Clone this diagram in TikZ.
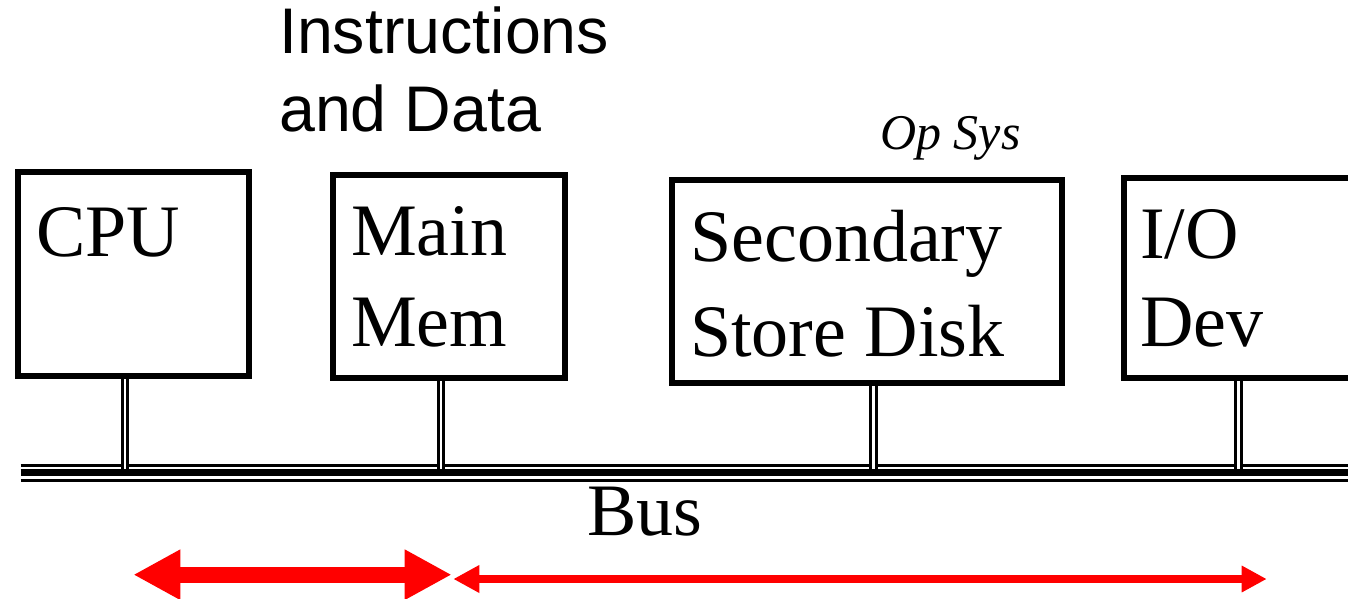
\documentclass[tikz,border=0pt]{standalone}
\usepackage{fontspec}
\setmainfont{Liberation Serif}
\newfontfamily\arialfont{Liberation Sans}
\usetikzlibrary{arrows.meta}
\tikzset{
  box/.style={draw=black, line width=6pt, fill=white, inner sep=0pt, outer sep=0pt},
  boxline/.style={draw=black, line width=6pt, inner sep=0pt, outer sep=0pt},
  boxtext/.style={anchor=base west, inner sep=0pt, font=\fontsize{74}{80}\selectfont},
  stemline/.style={draw=black, line width=3pt, double=white, double distance=2.2pt},
  thinbus/.style={line width=3pt},
  thickbus/.style={line width=6.8pt},
  bigarrow/.style={draw=red, line width=16pt, {Triangle[length=47pt,width=47pt]}-{Triangle[length=47pt,width=47pt]}},
  smallarrow/.style={draw=red, line width=8pt, {Triangle[length=26pt,width=26pt]}-{Triangle[length=25pt,width=25pt]}},
}
\begin{document}
\begin{tikzpicture}[x=1pt,y=-1pt]
\clip (0,0) rectangle (1348,599);
\fill[white] (0,0) rectangle (1348,599);

% bus
\coordinate (busL) at (20.7,472.7);
\coordinate (busR) at (1360,472.7);
\draw[thinbus] (20.7,465.7) -- (1360,465.7);
\draw[thickbus] (busL) -- (busR);
\draw[thinbus] (20.7,480) -- (1360,480);

% stem end points on bus
\coordinate (s1) at (124.8,469);
\coordinate (s2) at (441.3,469);
\coordinate (s3) at (873.5,469);
\coordinate (s4) at (1238.5,469);

% boxes
\node[box, minimum width=231.5pt, minimum height=204.5pt] (cpu) at (133.25,273.75) {};
\node[box, minimum width=232pt, minimum height=203.8pt] (mem) at (449,276.4) {};
\node[box, minimum width=390pt, minimum height=203.3pt] (disk) at (866.5,281.65) {};
\node[box, minimum width=236.5pt, minimum height=200.8pt] (io) at (1241.75,277.9) {};

% stems
\draw[stemline] (s1 |- cpu.south) -- (s1);
\draw[stemline] (s2 |- mem.south) -- (s2);
\draw[stemline] (s3 |- disk.south) -- (s3);
\draw[stemline] (s4 |- io.south) -- (s4);
% redraw box outlines over stem tops
\node[boxline, minimum width=231.5pt, minimum height=204.5pt] (cpuo) at (cpu) {};
\node[boxline, minimum width=232pt, minimum height=203.8pt] (memo) at (mem) {};
\node[boxline, minimum width=390pt, minimum height=203.3pt] (disko) at (disk) {};
\node[boxline, minimum width=236.5pt, minimum height=200.8pt] (ioo) at (io) {};

% box texts
\node[boxtext] (tcpu) at (36,256.7) {CPU};
\node[boxtext] (tmain) at (351,255) {Main};
\node[boxtext] (tmem) at (351,346.7) {Mem};
\node[boxtext] (tsec) at (690,261.7) {Secondary};
\node[boxtext] (tstore) at (690,356.7) {Store Disk};
\node[boxtext] (tio) at (1140,258.3) {I/O};
\node[boxtext] (tdev) at (1140,346.7) {Dev};

% other labels
\node[anchor=base west, inner sep=0pt, font=\arialfont\fontsize{64.5}{70}\selectfont] (instr) at (279,53.3) {Instructions};
\node[anchor=base west, inner sep=0pt, font=\arialfont\fontsize{64.5}{70}\selectfont] (anddata) at (279,131.7) {and Data};
\node[anchor=base west, inner sep=0pt, font=\itshape\fontsize{50}{55}\selectfont] (opsys) at (880,149) {Op Sys};
\node[boxtext] (bus) at (587,535) {Bus};

% arrows
\coordinate (a1) at (133.3,574.7);
\coordinate (a2) at (451.7,574.7);
\coordinate (a3) at (453.3,579);
\coordinate (a4) at (1266.7,579);
\draw[bigarrow] (a1) -- (a2);
\draw[smallarrow] (a3) -- (a4);
\end{tikzpicture}
\end{document}
